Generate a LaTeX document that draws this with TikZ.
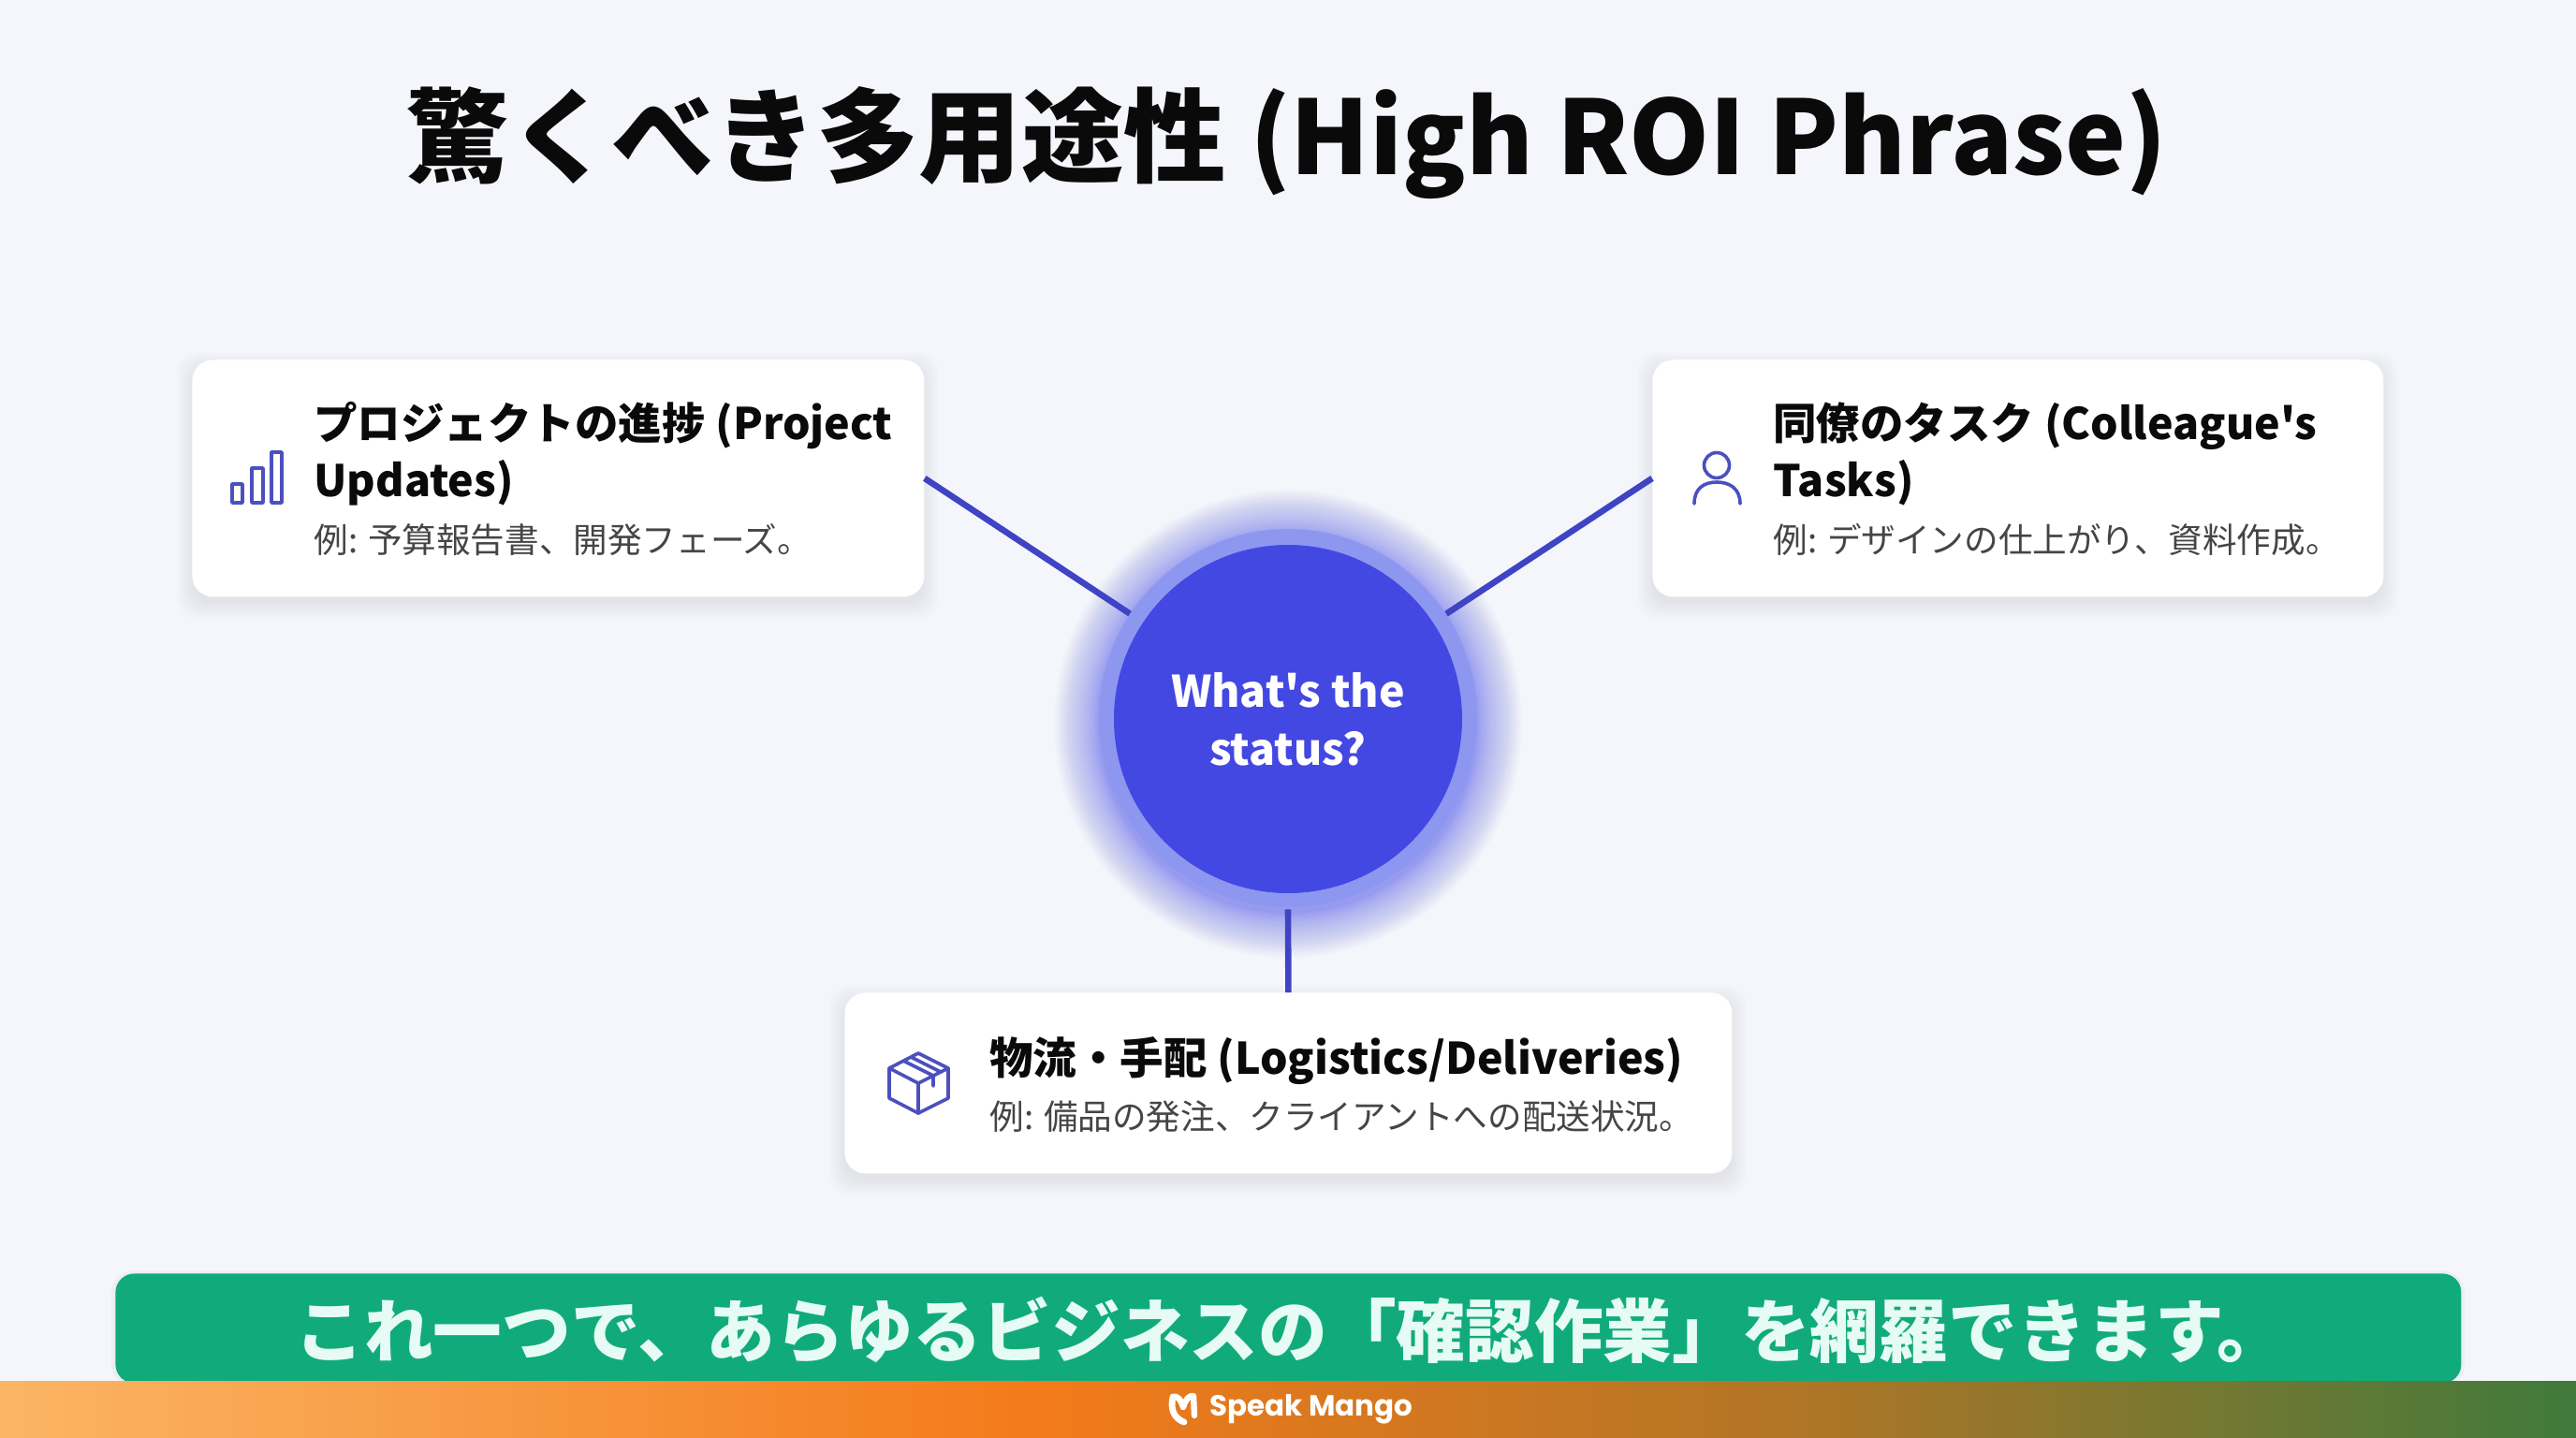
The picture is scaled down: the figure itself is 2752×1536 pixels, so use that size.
\documentclass[tikz,border=0pt]{standalone}
\usepackage{fontspec}
\setmainfont{Noto Sans CJK JP}
\newfontfamily\jpfont{Noto Sans CJK JP}
\newfontfamily\logofont{Poppins}
\usetikzlibrary{shapes.geometric}
\definecolor{bgc}{HTML}{F4F6FB}
\definecolor{corec}{HTML}{4448E2}
\definecolor{ringc}{HTML}{8E97F0}
\definecolor{glowc}{HTML}{5058F0}
\definecolor{linec}{HTML}{3F44C4}
\definecolor{iconc}{HTML}{4B50BE}
\definecolor{greenc}{HTML}{11AB7B}
\definecolor{greentx}{HTML}{E6FBF4}
\definecolor{subc}{HTML}{454545}
\definecolor{titlec}{HTML}{0A0A0A}
\definecolor{FA}{HTML}{FBB565}
\definecolor{FB}{HTML}{F47A1A}
\definecolor{FC}{HTML}{B07526}
\definecolor{FD}{HTML}{3F7A3C}
\pgfdeclarehorizontalshading{footershade}{100bp}{color(0bp)=(FA);
 color(25bp)=(FA);color(45bp)=(FB);color(60bp)=(FC);color(75bp)=(FD);color(100bp)=(FD)}
\tikzset{
 x=0.5pt,y=-0.5pt,
 cardbox/.style={draw=none,fill=white,rounded corners=11pt,inner sep=0pt,anchor=north west},
 cardtitle/.style={anchor=base west,align=left,inner sep=0pt,text=titlec,font=\jpfont\fontsize{23.25}{30.5}\selectfont\bfseries},
 cardsub/.style={anchor=base west,inner sep=0pt,text=subc,font=\jpfont\fontsize{18.3}{24}\selectfont},
 spoke/.style={draw=linec,line width=3.3pt},
 iconline/.style={draw=iconc,line width=1.8pt,line join=round,line cap=round},
}
\newcommand{\softshadow}[4]{%
 \foreach \g in {16,14,...,0}{
  \fill[black,opacity=0.006,rounded corners=11pt] ({#1-\g},{#2-\g+8}) rectangle ({#3+\g},{#4+\g+8});
 }}
\begin{document}
\begin{tikzpicture}
\useasboundingbox (0,0) rectangle (2752,1536);
\fill[bgc] (0,0) rectangle (2752,1536);

\node[inner sep=0pt,anchor=base,text=titlec,font=\jpfont\fontsize{54.7}{66}\selectfont\bfseries] (title) at (1375,186) {驚くべき多用途性 (High ROI Phrase)};

% glow
\foreach \k in {0,...,39}{
 \pgfmathsetmacro{\r}{203+47*(\k/39)^1.25}
 \fill[glowc,opacity=0.015] (1376,773) circle[radius=\r];
}
\node[circle,fill=ringc,draw=none,minimum size=202pt,inner sep=0pt] (ring) at (1376,767) {};
\node[circle,fill=corec,draw=none,minimum size=186pt,inner sep=0pt,text=white,align=center,font=\jpfont\fontsize{23.2}{31}\selectfont\bfseries] (core) at (1376,768) {What's the\\status?};

% cards
\softshadow{205}{384}{987}{637}
\softshadow{1765}{384}{2546}{637}
\softshadow{902}{1060}{1850}{1253}
\node[cardbox,minimum width=391pt,minimum height=126.5pt] (c1) at (205,384) {};
\node[cardbox,minimum width=390.5pt,minimum height=126.5pt] (c2) at (1765,384) {};
\node[cardbox,minimum width=474pt,minimum height=96.5pt] (c3) at (902,1060) {};

% connectors
\draw[spoke] (c1.east) -- (ring);
\draw[spoke] (c2.west) -- (ring);
\draw[spoke] (ring.south) ++(0,2) coordinate (rb) (rb) -- (c3.north);

% card 1
\node[cardtitle] (t1) at (335,530) {プロジェクトの進捗 (Project\\Updates)};
\node[cardsub] (s1) at (335,590) {例: 予算報告書、開発フェーズ。};
\draw[iconline] (248,517) rectangle (259,537);
\draw[iconline] (269,500) rectangle (281,537);
\draw[iconline] (290,483) rectangle (301,537);

% card 2
\node[cardtitle] (t2) at (1894,530) {同僚のタスク (Colleague's\\Tasks)};
\node[cardsub] (s2) at (1894,590) {例: デザインの仕上がり、資料作成。};
\draw[iconline] (1834,497) circle[radius=13.5];
\draw[iconline] (1810,538) .. controls (1810,522) and (1820,515) .. (1834,515) .. controls (1848,515) and (1859,522) .. (1859,538);

% card 3
\node[cardtitle] (t3) at (1057,1147) {物流・手配 (Logistics/Deliveries)};
\node[cardsub] (s3) at (1057,1206) {例: 備品の発注、クライアントへの配送状況。};
\draw[iconline] (981,1125) -- (1013,1141) -- (1013,1173) -- (981,1189) -- (950,1173) -- (950,1141) -- cycle;
\draw[iconline] (950,1141) -- (981,1157) -- (1013,1141);
\draw[iconline] (981,1157) -- (981,1189);
\draw[iconline] (965,1133) -- (997,1149) -- (997,1160);
\draw[iconline] (973,1129) -- (1005,1145);

% banner
\fill[black,opacity=0.03,rounded corners=11pt] (119,1358) rectangle (2633,1480);
\node[fill=greenc,rounded corners=10pt,draw=none,inner sep=0pt,minimum width=1253pt,minimum height=58.5pt,anchor=north west] (banner) at (123,1360) {};
\node[inner sep=0pt,anchor=base,text=greentx,font=\jpfont\fontsize{36.85}{44}\selectfont\bfseries] (bannertext) at (1379,1449) {これ一つで、あらゆるビジネスの「確認作業」を網羅できます。};

% footer
\shade[shading=footershade] (0,1475) rectangle (2752,1536);
\node[inner sep=0pt,anchor=base west,text=white,font=\logofont\fontsize{15.5}{20}\selectfont\bfseries] (logotext) at (1292,1512) {Speak Mango};
\draw[white,line width=3.4pt,line cap=round,line join=round] (1253,1492) .. controls (1250,1505) and (1254,1515) .. (1265,1519);
\draw[white,line width=3.2pt,line cap=round,line join=round] (1253,1492) .. controls (1258,1490) and (1262,1496) .. (1264,1503) .. controls (1266,1496) and (1270,1490) .. (1275,1491) -- (1276,1512);
\end{tikzpicture}
\end{document}
